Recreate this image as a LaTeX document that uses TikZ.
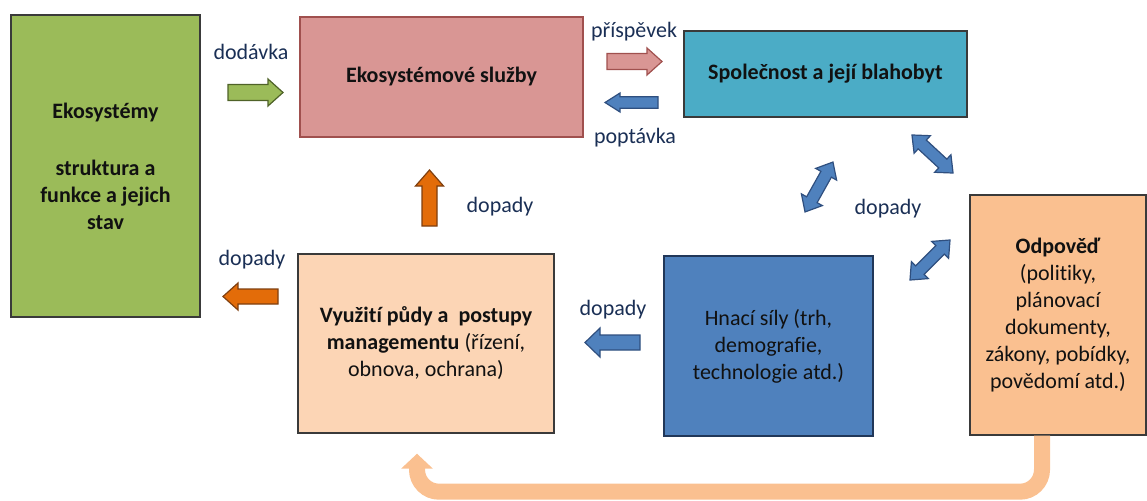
\documentclass[tikz,border=0pt]{standalone}
\usepackage{fontspec}
\setmainfont[Ligatures=CommonOff]{Carlito}
\usetikzlibrary{arrows.meta,calc}
\definecolor{ecogreen}{HTML}{9BBB59}
\definecolor{ecogreenD}{HTML}{4F6228}
\definecolor{svcpink}{HTML}{D99694}
\definecolor{svcpinkD}{HTML}{A0504E}
\definecolor{socteal}{HTML}{4BACC6}
\definecolor{respor}{HTML}{FAC090}
\definecolor{drvblue}{HTML}{4F81BD}
\definecolor{drvblueD}{HTML}{2F4F7F}
\definecolor{usepeach}{HTML}{FCD5B5}
\definecolor{arrorange}{HTML}{E36C09}
\definecolor{arrorangeD}{HTML}{7F3F0F}
\definecolor{labnavy}{HTML}{1A2F55}
\definecolor{boxtext}{HTML}{111111}
\definecolor{boxedge}{HTML}{3A3A3A}
% single block arrow: style, tail x, tail y, angle, length, head length, head half width, shaft half width
\newcommand{\blkarrow}[8]{%
  \path[#1, shift={(#2,#3)}, rotate=#4]
    (0,-#8) -- ({#5-#6},-#8) -- ({#5-#6},-#7) -- (#5,0) -- ({#5-#6},#7) -- ({#5-#6},#8) -- (0,#8) -- cycle;}
% double block arrow: style, centre x, centre y, angle, half length, head length, head half width, shaft half width
\newcommand{\dblarrow}[8]{%
  \path[#1, shift={(#2,#3)}, rotate=#4]
    (-#5,0) -- ({-#5+#6},#7) -- ({-#5+#6},#8) -- ({#5-#6},#8) -- ({#5-#6},#7) -- (#5,0)
    -- ({#5-#6},-#7) -- ({#5-#6},-#8) -- ({-#5+#6},-#8) -- ({-#5+#6},-#7) -- cycle;}
\begin{document}
\begin{tikzpicture}[x=1pt,y=-1pt,
  every node/.style={font=\fontsize{22}{27}\selectfont},
  box/.style={draw=boxedge, line width=1.4pt, inner sep=0pt, align=center, text=boxtext},
  lab/.style={text=labnavy, anchor=base, inner sep=0pt},
  greenarr/.style={fill=ecogreen, draw=ecogreenD, line width=1.2pt, line join=miter},
  pinkarr/.style={fill=svcpink, draw=svcpinkD, line width=1.2pt},
  bluearr/.style={fill=drvblue, draw=drvblueD, line width=1.2pt},
  orarr/.style={fill=arrorange, draw=arrorangeD, line width=1.2pt},
  feedback/.style={draw=respor, line width=16pt, rounded corners=22pt,
    -{Triangle[width=31pt,length=15pt]}}
]
\useasboundingbox (0,0) rectangle (1147,500);

% boxes
\node[box, fill=ecogreen, minimum width=189pt, minimum height=302pt] (eco) at (105.5,166)
  {\bfseries Ekosystémy\\[30pt]\bfseries struktura a\\ \bfseries funkce a jejich\\ \bfseries stav};
\node[box, fill=svcpink, draw=svcpinkD, minimum width=283pt, minimum height=120pt] (svc) at (441.5,77)
  {\bfseries Ekosystémové služby};
\node[box, fill=socteal, minimum width=283pt, minimum height=86pt] (soc) at (825.5,74)
  {\bfseries Společnost a její blahobyt};
\node[box, fill=respor, minimum width=176pt, minimum height=240pt] (odp) at (1058,315)
  {{\bfseries Odpověď}\\ (politiky,\\ plánovací\\ dokumenty,\\ zákony, pobídky,\\ povědomí atd.)};
\node[box, fill=drvblue, draw=drvblueD!70!black, minimum width=209pt, minimum height=180pt] (drv) at (768.5,346)
  {Hnací síly (trh,\\ demografie,\\ technologie atd.)};
\node[box, fill=usepeach, minimum width=256pt, minimum height=179pt] (use) at (426,343.5)
  {{\bfseries Využití půdy a\ \ postupy}\\ {\bfseries managementu} (řízení,\\ obnova, ochrana)};

% labels
\node[lab] (l1) at (251,60) {dodávka};
\node[lab] (l2) at (252,265) {dopady};
\node[lab] (l3) at (634,38) {příspěvek};
\node[lab] (l4) at (635,143) {poptávka};
\node[lab] (l5) at (500,212) {dopady};
\node[lab] (l6) at (613,315) {dopady};
\node[lab] (l7) at (888,214) {dopady};

% block arrows
\blkarrow{greenarr}{228}{92.5}{0}{55}{15}{13.5}{8}
\blkarrow{pinkarr}{607}{61.5}{0}{55}{15}{13.5}{8}
\blkarrow{bluearr}{658}{102.5}{180}{53}{15}{9.5}{5.8}
\blkarrow{orarr}{278}{296.5}{180}{55}{15}{13.5}{7.5}
\blkarrow{bluearr}{640}{342.5}{180}{55}{15}{14.5}{7.5}
\blkarrow{orarr}{429.5}{226}{90}{56}{16}{14}{7.5}
\dblarrow{bluearr}{819}{187}{60.75}{28.6}{14}{12}{6}
\dblarrow{bluearr}{932.5}{154}{-42.8}{28}{14}{12}{6}
\dblarrow{bluearr}{930}{260}{45}{28.3}{14}{12}{6}

% feedback loop
\draw[feedback] ([xshift=-16pt]odp.south) -- ++(0,56) -| ([xshift=-9pt,yshift=-20pt]use.south);
\end{tikzpicture}
\end{document}
